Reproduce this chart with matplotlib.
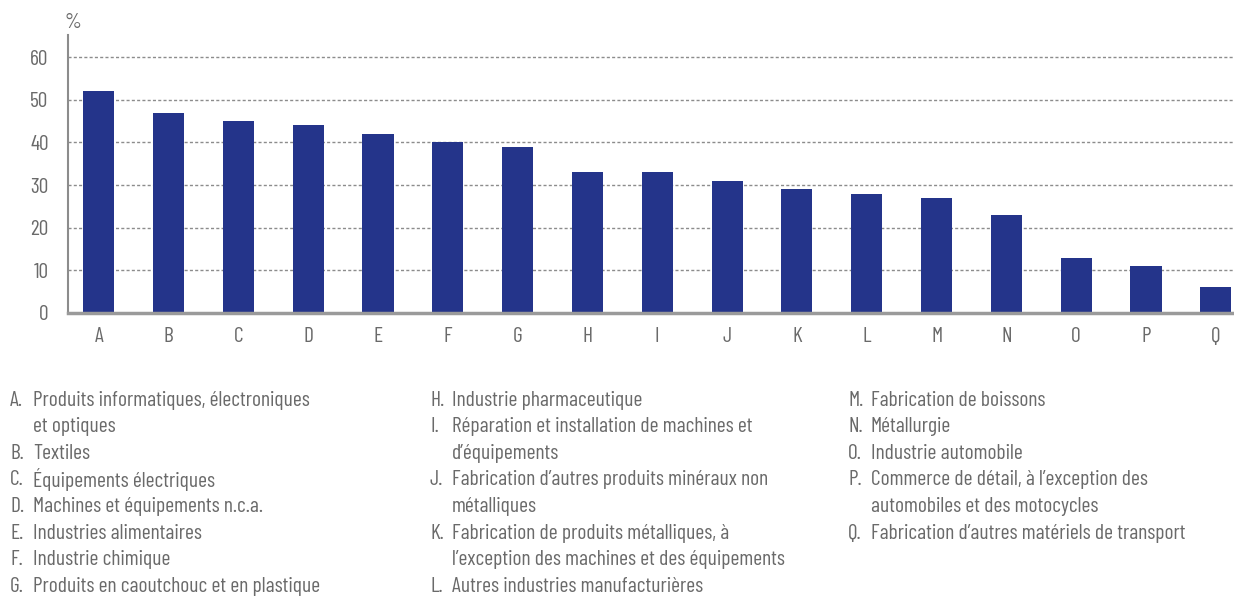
import matplotlib
matplotlib.use("Agg")
import matplotlib.pyplot as plt

# Data
letters = list("ABCDEFGHIJKLMNOPQ")
values = [52, 47, 45, 44, 42, 40, 39, 33, 33, 31, 29, 28, 27, 23, 13, 11, 6]

# Legend text, one list per column (each entry: list of wrapped lines)
col1 = [
    ["Produits informatiques, électroniques", "et optiques"],
    ["Textiles"],
    ["Équipements électriques"],
    ["Machines et équipements n.c.a."],
    ["Industries alimentaires"],
    ["Industrie chimique"],
    ["Produits en caoutchouc et en plastique"],
]
col2 = [
    ["Industrie pharmaceutique"],
    ["Réparation et installation de machines et", "d\u2019équipements"],
    ["Fabrication d\u2019autres produits minéraux non", "métalliques"],
    ["Fabrication de produits métalliques, à",
     "l\u2019exception des machines et des équipements"],
    ["Autres industries manufacturières"],
]
col3 = [
    ["Fabrication de boissons"],
    ["Métallurgie"],
    ["Industrie automobile"],
    ["Commerce de détail, à l\u2019exception des",
     "automobiles et des motocycles"],
    ["Fabrication d\u2019autres matériels de transport"],
]

plt.rcParams['font.family'] = ['Barlow Condensed', 'Roboto Condensed', 'DejaVu Sans']
txt = '#6a6a6a'
bar_color = '#24348a'
fs = 15.5

fig = plt.figure(figsize=(12.34, 5.96), dpi=100)
ax = fig.add_axes([68 / 1234, 1 - 313 / 596, 1 - 68 / 1234, (313 - 35) / 596])

x = range(len(letters))
ax.bar(x, values, width=0.445, color=bar_color, zorder=3)
ax.set_xlim(-0.44, 16.26)
ax.set_ylim(0, 65.2)

ax.set_yticks(range(0, 61, 10))
ax.set_xticks(list(x))
ax.set_xticklabels(letters)
ax.tick_params(axis='both', length=0, labelsize=fs, colors=txt)
ax.tick_params(axis='y', pad=14)
ax.tick_params(axis='x', pad=10)

for y in range(10, 61, 10):
    ax.axhline(y, color='#8c8c8c', lw=1.0, ls=(0, (2.2, 1.6)), zorder=1)

for s in ['top', 'right']:
    ax.spines[s].set_visible(False)
ax.spines['left'].set_color('#8c8c8c')
ax.spines['left'].set_linewidth(1.5)
ax.spines['bottom'].set_color('#9a9a9a')
ax.spines['bottom'].set_linewidth(2.5)
ax.spines['bottom'].set_zorder(4)

fig.text(65 / 1234, 1 - 23 / 596, '%', fontsize=fs, color=txt, va='center', ha='left')

# Legend below the chart
row0 = 400
step = 26.65
cols = [(col1, 10, 33, 0), (col2, 430, 452, 7), (col3, 848, 871, 12)]
for entries, xl, xt, start in cols:
    row = 0
    for i, lines in enumerate(entries):
        yy = row0 + row * step
        fig.text(xl / 1234, 1 - yy / 596, letters[start + i] + '.', fontsize=fs,
                 color=txt, va='center', ha='left')
        for ln in lines:
            yy = row0 + row * step
            fig.text(xt / 1234, 1 - yy / 596, ln, fontsize=fs, color=txt,
                     va='center', ha='left')
            row += 1

fig.savefig('out.png', dpi=100)
